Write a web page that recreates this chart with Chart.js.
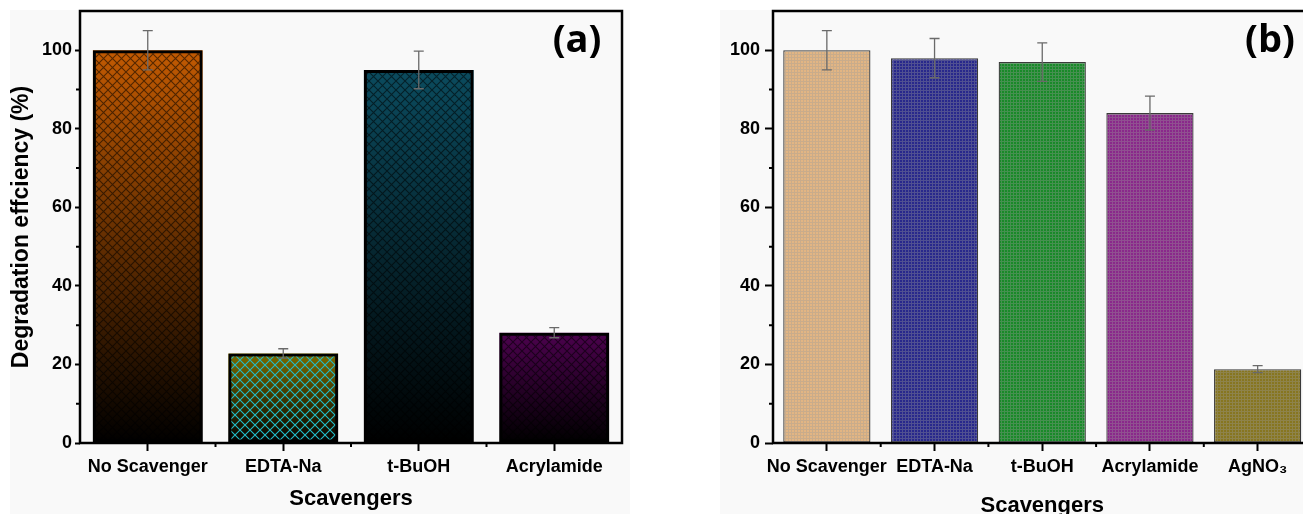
<!DOCTYPE html>
<html>
<head>
<meta charset="utf-8">
<script src="https://cdn.jsdelivr.net/npm/chart.js@4/dist/chart.umd.min.js"></script>
<style>
    body { margin: 0; background: #fff; overflow: hidden; width: 1303px; height: 514px; position: relative; }
    .bg { position: absolute; background: #f9f9f9; }
    canvas { position: absolute; top: 0; }
</style>
</head>
<body>
<div class="bg" style="left:10px; top:10px; width:620px; height:504px;"></div>
<div class="bg" style="left:720px; top:10px; width:583px; height:504px;"></div>
<canvas id="chartA" width="650" height="514" style="left:0px;"></canvas>
<canvas id="chartB" width="640" height="524" style="left:680px;"></canvas>
<script>
// panel (a)
var categoriesA = ['No Scavenger', 'EDTA-Na', 't-BuOH', 'Acrylamide'];
var valuesA = [100, 22.8, 95, 28.1];
var errorsA = [5, 1.2, 4.8, 1.3];

// panel (b)
var categoriesB = ['No Scavenger', 'EDTA-Na', 't-BuOH', 'Acrylamide', 'AgNO\u2083'];
var valuesB = [100, 98, 97, 84, 18.8];
var errorsB = [5, 5, 4.9, 4.3, 0.9];

var yTicks = [0, 20, 40, 60, 80, 100];
var yMinorTicks = [10, 30, 50, 70, 90];

var topColorsA = ['#c25a02', '#7c6b00', '#0b4b5e', '#4c024e'];
var hatchColorsA = ['rgba(0,0,0,0.55)', '#22bcc8', 'rgba(0,0,0,0.55)', 'rgba(0,0,0,0.55)'];
var colorsB = ['#e2b583', '#28288c', '#198a29', '#8a288b', '#877620'];

var labelFont = { family: '"Liberation Sans", Arial, sans-serif', size: 18, weight: 'bold' };

function makeHatch(color, size) {
    var c = document.createElement('canvas');
    c.width = size;
    c.height = size;
    var g = c.getContext('2d');
    g.strokeStyle = color;
    g.lineWidth = 1.1;
    g.beginPath();
    g.moveTo(0, 0); g.lineTo(size, size);
    g.moveTo(0, size); g.lineTo(size, 0);
    g.stroke();
    return g.createPattern(c, 'repeat');
}

function mix(hex, other, t) {
    var a = parseInt(hex.slice(1), 16), b = parseInt(other.slice(1), 16);
    var r = Math.round(((a >> 16) & 255) * (1 - t) + ((b >> 16) & 255) * t);
    var gg = Math.round(((a >> 8) & 255) * (1 - t) + ((b >> 8) & 255) * t);
    var bl = Math.round((a & 255) * (1 - t) + (b & 255) * t);
    return 'rgb(' + r + ',' + gg + ',' + bl + ')';
}

function makeGrid(color) {
    var c = document.createElement('canvas');
    c.width = 3;
    c.height = 3;
    var g = c.getContext('2d');
    g.fillStyle = color;
    g.fillRect(0, 0, 3, 3);
    g.fillStyle = mix(color, '#9a9a9a', 0.35);
    g.fillRect(0, 0, 3, 1);
    g.fillRect(0, 0, 1, 3);
    return g.createPattern(c, 'repeat');
}

function gradientFill(ctx) {
    var chart = ctx.chart;
    var top = topColorsA[ctx.dataIndex];
    if (!chart.chartArea) return top;
    var y = chart.scales.y;
    var g = chart.ctx.createLinearGradient(0, y.getPixelForValue(ctx.raw), 0, y.getPixelForValue(0));
    g.addColorStop(0, top);
    g.addColorStop(1, '#000000');
    return g;
}

var errorBars = {
    id: 'errorBars',
    afterDatasetsDraw: function(chart, args, opts) {
        var ctx = chart.ctx, x = chart.scales.x, y = chart.scales.y;
        ctx.save();
        ctx.strokeStyle = opts.color;
        ctx.lineWidth = opts.width;
        opts.values.forEach(function(v, i) {
            var cx = x.getPixelForValue(i);
            var t = y.getPixelForValue(v + opts.errors[i]);
            var b = y.getPixelForValue(v - opts.errors[i]);
            ctx.beginPath();
            ctx.moveTo(cx, t); ctx.lineTo(cx, b);
            ctx.moveTo(cx - opts.cap, t); ctx.lineTo(cx + opts.cap, t);
            ctx.moveTo(cx - opts.cap, b); ctx.lineTo(cx + opts.cap, b);
            ctx.stroke();
        });
        ctx.restore();
    }
};

var frame = {
    id: 'frame',
    afterDraw: function(chart, args, opts) {
        var ctx = chart.ctx, a = chart.chartArea, x = chart.scales.x, y = chart.scales.y;
        ctx.save();
        ctx.strokeStyle = '#000';
        ctx.lineWidth = 2.5;
        ctx.strokeRect(a.left, a.top, a.right - a.left, a.bottom - a.top);
        // minor ticks
        ctx.lineWidth = 2;
        ctx.beginPath();
        yMinorTicks.forEach(function(v) {
            var py = y.getPixelForValue(v);
            ctx.moveTo(a.left, py); ctx.lineTo(a.left - 4, py);
        });
        for (var i = 0; i < x.ticks.length - 1; i++) {
            var px = (x.getPixelForValue(i) + x.getPixelForValue(i + 1)) / 2;
            ctx.moveTo(px, a.bottom); ctx.lineTo(px, a.bottom + 4);
        }
        ctx.stroke();
        // panel label
        ctx.fillStyle = '#000';
        ctx.font = 'bold 38px "Open Sans", sans-serif';
        ctx.textAlign = 'center';
        ctx.textBaseline = 'alphabetic';
        ctx.fillText(opts.label, opts.lx, opts.ly);
        ctx.restore();
    }
};

function yScale(width, tickLen, pad, title) {
    return {
        min: 0,
        max: 110,
        afterBuildTicks: function(scale) {
            scale.ticks = yTicks.map(function(v) { return { value: v }; });
        },
        afterFit: function(scale) {
            scale.width = width;
            scale.paddingTop = 0;
            scale.paddingBottom = 0;
        },
        grid: { drawOnChartArea: false, tickLength: tickLen, tickWidth: 2, tickColor: '#000' },
        border: { display: false },
        ticks: { color: '#000', font: labelFont, padding: pad },
        title: title
    };
}

function xScale(height, titlePadBottom) {
    return {
        offset: true,
        afterFit: function(scale) { scale.height = height; },
        grid: { drawOnChartArea: false, offset: false, tickLength: 8, tickWidth: 2, tickColor: '#000' },
        border: { display: false },
        ticks: { color: '#000', font: labelFont, padding: 5, maxRotation: 0, autoSkip: false },
        title: {
            display: true,
            text: 'Scavengers',
            color: '#000',
            font: { family: '"Liberation Sans", Arial, sans-serif', size: 22, weight: 'bold' },
            padding: { top: 0, bottom: titlePadBottom }
        }
    };
}

var chartA = new Chart(document.getElementById('chartA'), {
    type: 'bar',
    data: {
        labels: categoriesA,
        datasets: [{
            data: valuesA,
            order: 0,
            grouped: false,
            backgroundColor: hatchColorsA.map(function(c, i) { return makeHatch(c, i === 1 ? 10 : 9); }),
            borderColor: '#000',
            borderWidth: 3,
            borderSkipped: false,
            categoryPercentage: 1,
            barPercentage: 0.81
        }, {
            data: valuesA,
            order: 1,
            grouped: false,
            backgroundColor: gradientFill,
            borderWidth: 0,
            categoryPercentage: 1,
            barPercentage: 0.81
        }]
    },
    options: {
        responsive: false,
        animation: false,
        layout: { padding: { left: 0, right: 28, top: 11, bottom: 0 } },
        plugins: {
            legend: { display: false },
            tooltip: { enabled: false },
            errorBars: { values: valuesA, errors: errorsA, color: '#6a6a6a', width: 1.3, cap: 5 },
            frame: { label: '(a)', lx: 577, ly: 52 }
        },
        scales: {
            x: xScale(71, 2),
            y: yScale(80, 5, 3, {
                display: true,
                text: 'Degradation effciency (%)',
                color: '#000',
                font: { family: '"Liberation Sans", Arial, sans-serif', size: 23, weight: 'bold' },
                padding: { top: 8, bottom: 0 }
            })
        }
    },
    plugins: [errorBars, frame]
});

var chartB = new Chart(document.getElementById('chartB'), {
    type: 'bar',
    data: {
        labels: categoriesB,
        datasets: [{
            data: valuesB,
            backgroundColor: colorsB.map(makeGrid),
            borderColor: '#3a3a3a',
            borderWidth: 1.3,
            borderSkipped: false,
            categoryPercentage: 1,
            barPercentage: 0.81
        }]
    },
    options: {
        responsive: false,
        animation: false,
        layout: { padding: { left: 0, right: 8.5, top: 11, bottom: 0 } },
        plugins: {
            legend: { display: false },
            tooltip: { enabled: false },
            errorBars: { values: valuesB, errors: errorsB, color: '#6a6a6a', width: 1.3, cap: 5 },
            frame: { label: '(b)', lx: 590, ly: 52 }
        },
        scales: {
            x: xScale(81, 5),
            y: yScale(93, 8, 5, { display: false })
        }
    },
    plugins: [errorBars, frame]
});
</script>
</body>
</html>
